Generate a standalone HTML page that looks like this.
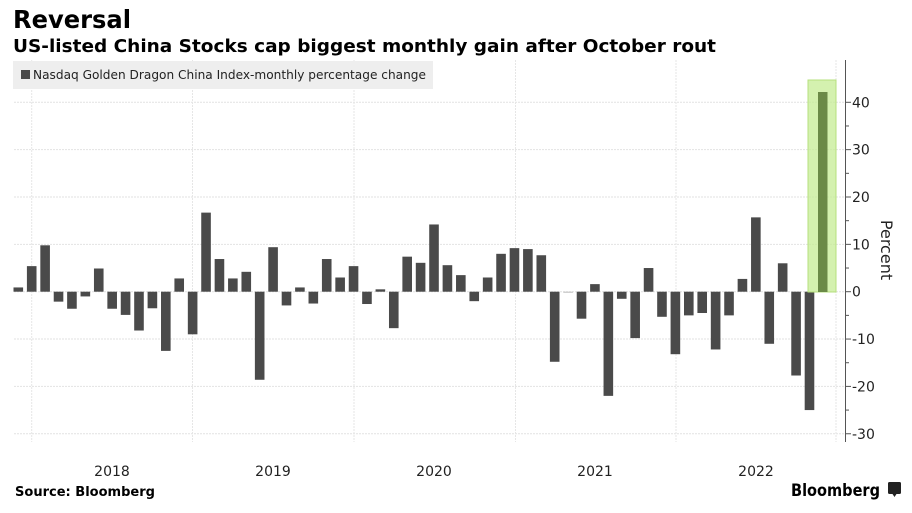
<!DOCTYPE html>
<html><head><meta charset="utf-8"><style>
html,body{margin:0;padding:0;background:#fff;}
body{width:912px;height:509px;overflow:hidden;font-family:"DejaVu Sans","Liberation Sans",sans-serif;}
</style></head><body>
<svg width="912" height="509" xmlns="http://www.w3.org/2000/svg" font-family="DejaVu Sans, Liberation Sans, sans-serif">
<text x="13" y="28" font-size="25" font-weight="bold" fill="#000" textLength="118" lengthAdjust="spacingAndGlyphs">Reversal</text>
<text x="13" y="52" font-size="18" font-weight="bold" fill="#000" textLength="703" lengthAdjust="spacingAndGlyphs">US-listed China Stocks cap biggest monthly gain after October rout</text>
<g id="grid"></g>
<rect x="13" y="61" width="420" height="28" fill="#eeeeee"/>
<rect x="21" y="70" width="9" height="9" fill="#4a4a4a"/>
<text x="33" y="79" font-size="12.5" fill="#222" textLength="393" lengthAdjust="spacingAndGlyphs">Nasdaq Golden Dragon China Index-monthly percentage change</text>
<g id="bars"></g>
<rect x="808" y="80" width="28" height="212" fill="#c5ec94" opacity="0.75"/>
<rect x="808" y="80" width="28" height="212" fill="none" stroke="#b6e07c" stroke-width="1"/>
<rect x="818" y="92" width="9.5" height="200" fill="#6b8a47"/>
<line x1="845.5" y1="60" x2="845.5" y2="442" stroke="#555" stroke-width="1"/>
<g id="yt" font-size="14" fill="#222"></g>
<text transform="translate(881,250) rotate(90)" font-size="16" fill="#222" text-anchor="middle">Percent</text>
<g font-size="14" fill="#222" text-anchor="middle">
<text x="112" y="476">2018</text><text x="273" y="476">2019</text><text x="434" y="476">2020</text><text x="595" y="476">2021</text><text x="756" y="476">2022</text>
</g>
<text x="15" y="496" font-size="13" font-weight="bold" fill="#000" textLength="140" lengthAdjust="spacingAndGlyphs">Source: Bloomberg</text>
<text x="791" y="496" font-size="17" font-weight="bold" fill="#000" textLength="89" lengthAdjust="spacingAndGlyphs">Bloomberg</text>
<rect x="888" y="482" width="13" height="12" rx="1.5" fill="#222"/>
<path d="M892.5 494 l2 3 l2 -3z" fill="#222"/>
</svg>
<script>
const ns="http://www.w3.org/2000/svg";
const z=291.7,s=4.735;
const g=document.getElementById('grid');
for(let v=-30;v<=40;v+=10){const y=z-v*s;const l=document.createElementNS(ns,'line');
l.setAttribute('x1',14);l.setAttribute('x2',845);l.setAttribute('y1',y);l.setAttribute('y2',y);
l.setAttribute('stroke','#e2e2e2');l.setAttribute('stroke-dasharray','2,1');g.appendChild(l);
const t=document.createElementNS(ns,'line');t.setAttribute('x1',845);t.setAttribute('x2',851);t.setAttribute('y1',y);t.setAttribute('y2',y);t.setAttribute('stroke','#555');document.getElementById('yt').appendChild(t);
const tx=document.createElementNS(ns,'text');tx.setAttribute('x',852);tx.setAttribute('y',y+5);tx.textContent=v<0?'-'+(-v):v;document.getElementById('yt').appendChild(tx);
const m=document.createElementNS(ns,'line');m.setAttribute('x1',845);m.setAttribute('x2',849);m.setAttribute('y1',y-5*s);m.setAttribute('y2',y-5*s);m.setAttribute('stroke','#555');if(v<40)document.getElementById('yt').appendChild(m);}
[31.7,192.5,354,515.5,676,836].forEach(x=>{const l=document.createElementNS(ns,'line');
l.setAttribute('x1',x);l.setAttribute('x2',x);l.setAttribute('y1',60);l.setAttribute('y2',442);
l.setAttribute('stroke','#e6e6e6');l.setAttribute('stroke-dasharray','2,1');g.appendChild(l);});
const d=[0.9,5.4,9.8,-2.1,-3.6,-1.0,4.9,-3.6,-4.9,-8.2,-3.5,-12.5,2.8,-9.0,16.7,6.9,2.8,4.2,-18.6,9.4,-2.9,0.9,-2.5,6.9,3.0,5.4,-2.6,0.5,-7.7,7.4,6.1,14.2,5.6,3.5,-2.0,3.0,8.0,9.2,9.0,7.7,-14.8,-0.2,-5.7,1.6,-22,-1.5,-9.8,5,-5.3,-13.2,-5,-4.5,-12.2,-5,2.7,15.7,-11,6,-17.7,-25];
const b=document.getElementById('bars');
d.forEach((v,i)=>{const c=18.3+i*13.41;const r=document.createElementNS(ns,'rect');
const h=Math.max(Math.abs(v)*s,1);r.setAttribute('x',c-4.8);r.setAttribute('width',9.6);
r.setAttribute('y',v>=0?z-h:z);r.setAttribute('height',h);r.setAttribute('fill',Math.abs(v)<0.3?'#bbb':'#4a4a4a');b.appendChild(r);});
</script>
</body></html>
